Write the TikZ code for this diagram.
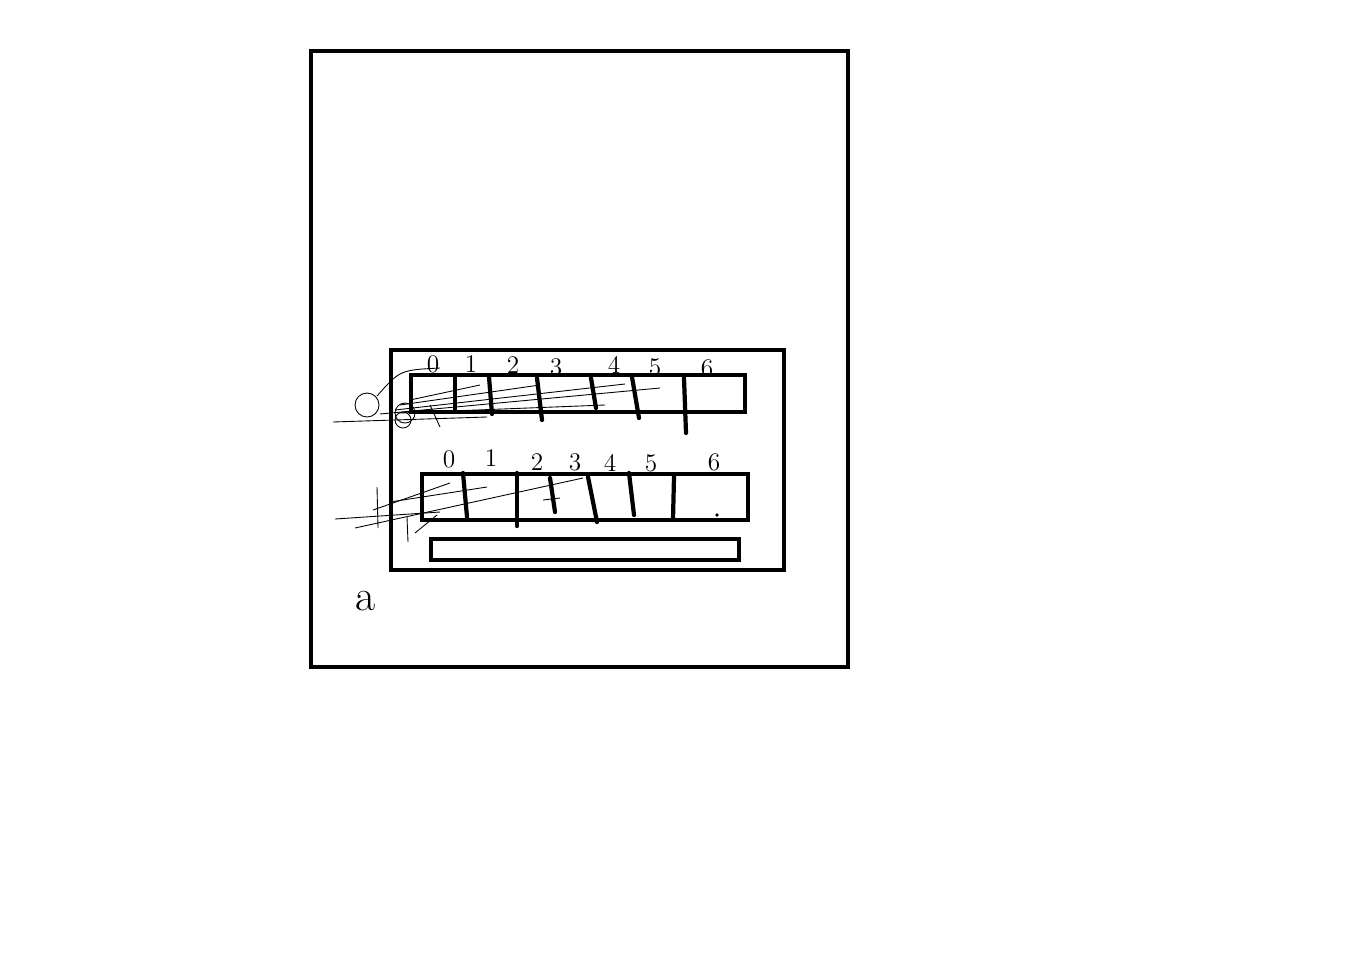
\documentclass[tikz,border=0pt]{standalone}
\begin{document}
\begin{tikzpicture}[x=0.02cm,y=-0.02cm,
    caja/.style={line width=2.4pt},
    raya/.style={line width=2.4pt, line cap=round},
    garabato/.style={line width=0.5pt},
    num/.style={font=\Large, inner sep=0pt}]

    \useasboundingbox (0,0) rectangle (1354,970);

    % 1. Marco exterior
    \draw[caja] (311,51) rectangle (848,667);

    % 2. Caja interior
    \draw[caja] (391,350) rectangle (784,570);

    % 3. Barra de arriba con sus rayas
    \draw[caja] (411,375) rectangle (745,412);
    \draw[raya] (455,377) -- (455,410);
    \draw[raya] (489,377) -- (492,414);
    \draw[raya] (537,378) -- (542,420);
    \draw[raya] (591,378) -- (596,408);
    \draw[raya] (632,377) -- (639,418);
    \draw[raya] (684,378) -- (686,433);

    % 4. Numeros de arriba
    \node[num] (a0) at (433,364) {0};
    \node[num] (a1) at (471,364) {1};
    \node[num] (a2) at (513,365) {2};
    \node[num] (a3) at (556,367) {3};
    \node[num] (a4) at (614,365) {4};
    \node[num] (a5) at (655,367) {5};
    \node[num] (a6) at (707,368) {6};

    % 5. Barra de abajo con sus rayas
    \draw[caja] (422,474) rectangle (748,520);
    \draw[raya] (463,473) -- (467,517);
    \draw[raya] (517,473) -- (517,526);
    \draw[raya] (550,478) -- (555,512);
    \draw[raya] (588,477) -- (597,522);
    \draw[raya] (629,473) -- (634,515);
    \draw[raya] (674,477) -- (673,519);
    \fill (717,515) circle (1.8);

    % 6. Numeros de abajo
    \node[num] (b0) at (449,459) {0};
    \node[num] (b1) at (491,458) {1};
    \node[num] (b2) at (537,462) {2};
    \node[num] (b3) at (575,462) {3};
    \node[num] (b4) at (610,463) {4};
    \node[num] (b5) at (651,463) {5};
    \node[num] (b6) at (714,462) {6};

    % 7. Barra vacia
    \draw[caja] (431,539) rectangle (739,560);

    % 8. Letra a
    \node[font=\Huge, inner sep=0pt] (letra) at (366,601) {a};

    % 9. Garabatos de arriba
    \draw[garabato] (367,405) circle (12);
    \draw[garabato] (405,413) circle (10);
    \draw[garabato] (403,420) circle (8);
    \draw[garabato] (377,396) .. controls (400,370) .. (440,368);
    \draw[garabato] (333,422) -- (487,417);
    \draw[garabato] (380,414) -- (660,388);
    \draw[garabato] (395,410) -- (625,384);
    \draw[garabato] (400,405) -- (540,385);
    \draw[garabato] (400,413) -- (605,405);
    \draw[garabato] (410,400) -- (480,385);
    \draw[garabato] (430,405) -- (440,427);

    % 10. Garabatos de abajo
    \draw[garabato] (335,519) -- (440,512);
    \draw[garabato] (355,528) -- (583,478);
    \draw[garabato] (373,510) -- (450,483);
    \draw[garabato] (390,502) -- (487,487);
    \draw[garabato] (377,487) -- (378,528);
    \draw[garabato] (407,517) -- (408,542);
    \draw[garabato] (415,533) -- (437,515);
    \draw[garabato] (543,500) -- (560,498);

\end{tikzpicture}
\end{document}
